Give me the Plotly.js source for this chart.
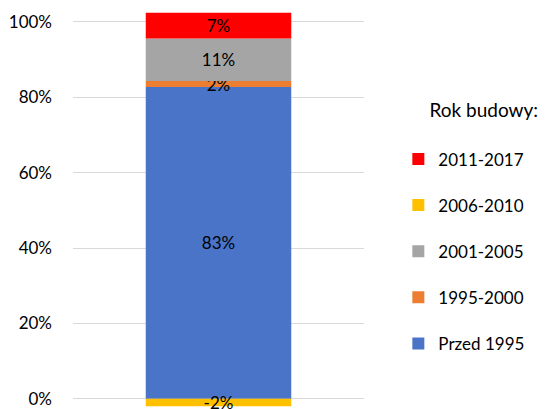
<!DOCTYPE html>
<html><head><meta charset="utf-8">
<script src="https://cdn.plot.ly/plotly-3.0.1.min.js"></script>
<style>html,body{margin:0;padding:0;background:#fff;}#chart{width:553px;height:409px;}</style>
</head><body><div id="chart"></div>
<script>
const category = ['Mieszkania'];
const seriesNames = ['Przed 1995', '1995-2000', '2001-2005', '2006-2010', '2011-2017'];
const przed1995 = [0.827];
const s1995_2000 = [0.016];
const s2001_2005 = [0.113];
const s2006_2010 = [-0.02];
const s2011_2017 = [0.068];
const tickValues = [0, 0.2, 0.4, 0.6, 0.8, 1.0];
const tickLabels = ['0%', '20%', '40%', '60%', '80%', '100%'];

const seriesValues = [przed1995, s1995_2000, s2001_2005, s2006_2010, s2011_2017];
const colors = ['#4a74c8', '#ED7D31', '#A5A5A5', '#FFC000', '#FF0000'];
const font = 'Lato, "Open Sans", sans-serif';

const traces = seriesNames.map((name, i) => ({
  type: 'bar',
  name: name,
  x: category,
  y: seriesValues[i],
  marker: {color: colors[i], line: {width: 0}},
  text: seriesValues[i].map(v => Math.round(v * 100) + '%'),
  texttemplate: '%{text}',
  textposition: 'inside',
  insidetextanchor: 'middle',
  textfont: {family: font, size: 17, color: '#000'},
  legendgroup: 'g' + i,
  legendrank: 1000 - i,
  hoverinfo: 'skip'
}));

const layout = {
  width: 553, height: 409,
  margin: {l: 73, r: 189, t: 0, b: 0},
  paper_bgcolor: '#fff', plot_bgcolor: '#fff',
  barmode: 'relative',
  bargap: 0.5,
  uniformtext: {mode: 'show', minsize: 17},
  font: {family: font, size: 17, color: '#000'},
  xaxis: {showticklabels: false, showgrid: false, zeroline: false, showline: false, ticks: ''},
  yaxis: {
    range: [-0.027, 1.058],
    tickvals: tickValues, ticktext: tickLabels,
    showgrid: true, gridcolor: '#d9d9d9', gridwidth: 1,
    zeroline: true, zerolinecolor: '#d9d9d9', zerolinewidth: 1,
    showline: false, ticks: '',
    ticklabelstandoff: 20,
    tickfont: {family: font, size: 17, color: '#000'}
  },
  showlegend: true,
  legend: {
    x: 1.118, xanchor: 'left', y: 0.775, yanchor: 'top',
    traceorder: 'grouped',
    tracegroupgap: 21,
    title: {text: '&nbsp;&nbsp;&nbsp;&nbsp;&nbsp;&nbsp;Rok budowy:<br> ', font: {family: font, size: 19, color: '#000'}, side: 'top'},
    font: {family: font, size: 17, color: '#000'},
    itemwidth: 30
  }
};

Plotly.newPlot('chart', traces, layout, {displayModeBar: false, staticPlot: true});
</script></body></html>
